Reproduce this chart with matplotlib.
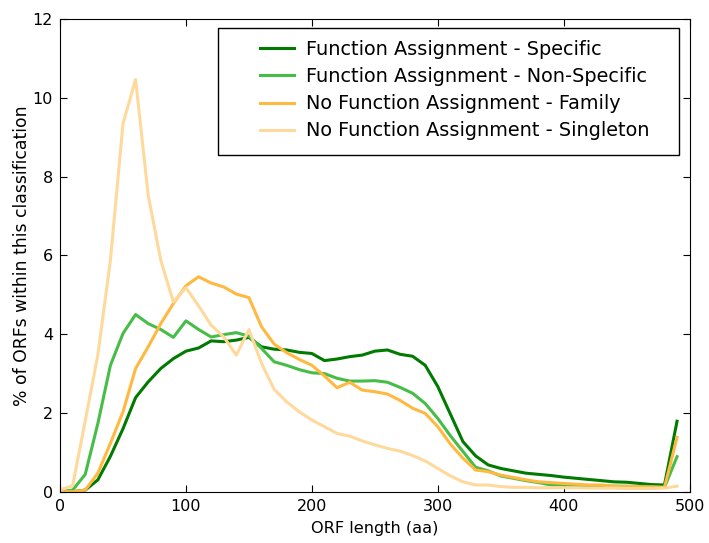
import numpy as np
import matplotlib
matplotlib.use("Agg")
import matplotlib.pyplot as plt
from matplotlib.patches import Rectangle

# ORF length bins (aa)
orf_length = list(range(0, 500, 10))

specific = [0.0, 0.0, 0.04, 0.30, 0.90, 1.60, 2.39, 2.79, 3.13, 3.38,
            3.57, 3.65, 3.83, 3.81, 3.85, 3.92, 3.68, 3.62, 3.60, 3.54,
            3.51, 3.33, 3.37, 3.43, 3.47, 3.57, 3.60, 3.49, 3.44, 3.21,
            2.67, 1.97, 1.27, 0.91, 0.68, 0.59, 0.53, 0.47, 0.44, 0.41,
            0.37, 0.34, 0.31, 0.28, 0.25, 0.24, 0.21, 0.18, 0.17, 1.79]

non_specific = [0.0, 0.04, 0.44, 1.73, 3.21, 4.02, 4.50, 4.27, 4.12, 3.92,
                4.34, 4.12, 3.93, 3.99, 4.04, 3.95, 3.64, 3.30, 3.21, 3.10,
                3.02, 3.00, 2.88, 2.81, 2.81, 2.82, 2.78, 2.65, 2.50, 2.24,
                1.86, 1.42, 1.02, 0.62, 0.53, 0.40, 0.34, 0.28, 0.23, 0.17,
                0.17, 0.15, 0.15, 0.15, 0.14, 0.14, 0.13, 0.13, 0.11, 0.89]

family = [0.0, 0.0, 0.04, 0.47, 1.23, 2.03, 3.13, 3.68, 4.27, 4.78,
          5.23, 5.46, 5.30, 5.20, 5.02, 4.93, 4.19, 3.75, 3.53, 3.36,
          3.21, 2.94, 2.64, 2.78, 2.58, 2.54, 2.48, 2.32, 2.12, 1.99,
          1.65, 1.21, 0.85, 0.55, 0.51, 0.42, 0.36, 0.30, 0.25, 0.23,
          0.21, 0.19, 0.17, 0.17, 0.14, 0.13, 0.13, 0.12, 0.11, 1.38]

singleton = [0.05, 0.15, 1.80, 3.47, 5.88, 9.35, 10.47, 7.53, 5.88, 4.82,
             5.18, 4.72, 4.23, 3.93, 3.47, 4.12, 3.26, 2.60, 2.28, 2.03,
             1.82, 1.65, 1.48, 1.41, 1.29, 1.19, 1.10, 1.03, 0.92, 0.78,
             0.59, 0.40, 0.25, 0.17, 0.17, 0.13, 0.11, 0.11, 0.10, 0.10,
             0.10, 0.10, 0.09, 0.09, 0.09, 0.08, 0.08, 0.08, 0.09, 0.14]

series = [
    ("Function Assignment - Specific", specific, "#007a00"),
    ("Function Assignment - Non-Specific", non_specific, "#46bd46"),
    ("No Function Assignment - Family", family, "#ffb840"),
    ("No Function Assignment - Singleton", singleton, "#ffd99c"),
]


def main():
    fig = plt.figure(figsize=(7.09, 5.43), dpi=100)
    ax = fig.add_axes([0.0847, 0.0945, 0.888, 0.870])

    for label, values, color in series:
        ax.plot(orf_length, values, color=color, linewidth=2.2, label=label)

    ax.set_xlim(0, 500)
    ax.set_ylim(0, 12)
    ax.set_xticks(np.arange(0, 501, 100))
    ax.set_yticks(np.arange(0, 13, 2))
    ax.tick_params(direction="in", top=True, right=True, length=5,
                   labelsize=11.5, pad=5)
    ax.set_xlabel("ORF length (aa)", fontsize=11.6, labelpad=5)
    ax.set_ylabel("% of ORFs within this classification", fontsize=12.4,
                  labelpad=1)

    # legend box drawn separately (wide left margin like the original)
    ax.add_patch(Rectangle((0.2508, 0.7123), 0.7317, 0.2687,
                           transform=ax.transAxes, fill=True,
                           facecolor="white", edgecolor="black",
                           linewidth=1.0, zorder=4))
    leg = ax.legend(loc="upper left", fontsize=13.9, frameon=False,
                    handlelength=1.75, handletextpad=0.65,
                    borderpad=0, borderaxespad=0, labelspacing=0.42,
                    bbox_to_anchor=(0.3175, 0.956))
    leg.set_zorder(5)

    fig.savefig("out.png", dpi=100)


if __name__ == "__main__":
    main()
